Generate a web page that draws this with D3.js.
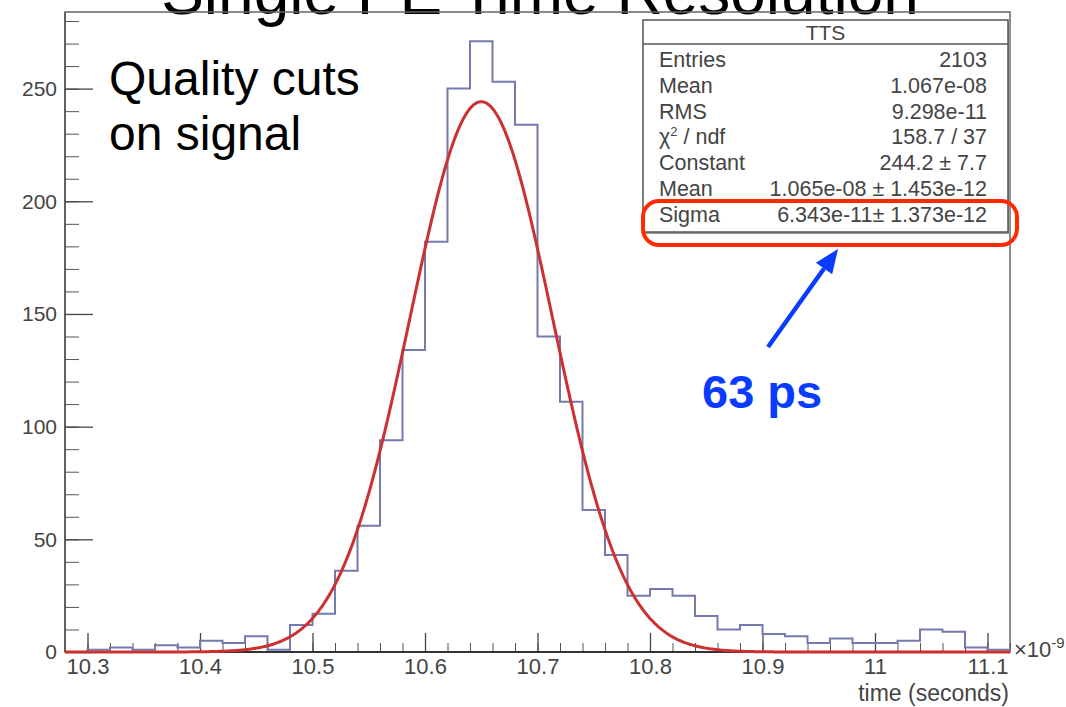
<!DOCTYPE html>
<html>
<head>
<meta charset="utf-8">
<script src="https://cdn.jsdelivr.net/npm/d3@7"></script>
<style>
  body { margin: 0; background: #fff; }
  svg { display: block; font-family: "Liberation Sans", Arial, sans-serif; }
</style>
</head>
<body>
<div id="chart"></div>
<script>
// histogram TTS: 42 bins of 0.02 (x 1e-9 s) starting at 10.28
var binLow = 10.28, binWidth = 0.02;
var counts = [0, 1, 2, 1, 3, 2, 5, 4, 7, 1,
              12, 17, 36, 56, 94, 134, 182, 250, 271, 253,
              234, 140, 111, 63, 43, 25, 28, 25, 16, 10,
              12, 8, 7, 4, 6, 4, 4, 5, 10, 9,
              2, 1];
// gaussian fit: constant, mean, sigma (x 1e-9 s)
var fitParams = [244.2, 10.65, 0.06343];
var xTicks = [10.3, 10.4, 10.5, 10.6, 10.7, 10.8, 10.9, 11, 11.1];
var yTicks = [0, 50, 100, 150, 200, 250];
var statsLabels = ["Entries", "Mean", "RMS", "chi2", "Constant", "Mean", "Sigma"];
var statsValues = ["2103", "1.067e-08", "9.298e-11", "158.7 / 37", "244.2 \u00b1 7.7",
                   "1.065e-08 \u00b1 1.453e-12", "6.343e-11\u00b1 1.373e-12"];

var W = 1066, H = 707;
var frame = {left: 65, top: 12, right: 1010, bottom: 652};

var svg = d3.select("#chart").append("svg")
    .attr("width", W).attr("height", H);

var x = d3.scaleLinear().domain([binLow, binLow + counts.length * binWidth])
    .range([frame.left, frame.right]);
var y = d3.scaleLinear().domain([0, 284]).range([frame.bottom, frame.top]);

// slide title, cut off at the top
svg.append("text")
    .attr("x", 540).attr("y", 14)
    .attr("text-anchor", "middle")
    .style("font-size", "64px").style("fill", "#000")
    .text("Single PE Time Resolution");

// frame
svg.append("rect")
    .attr("x", frame.left).attr("y", frame.top)
    .attr("width", frame.right - frame.left).attr("height", frame.bottom - frame.top)
    .style("fill", "none").style("stroke", "#666").style("stroke-width", 1.5);

// minor ticks
var xMinor = d3.range(0, 43).map(function (i) { return +(binLow + i * binWidth).toFixed(2); });
var yMinor = d3.range(0, 29).map(function (i) { return i * 10; });

svg.append("g").attr("transform", "translate(0," + frame.bottom + ")")
    .call(d3.axisBottom(x).tickValues(xMinor).tickSizeInner(-9).tickSizeOuter(0).tickFormat(""))
    .call(function (g) { g.select(".domain").remove(); g.selectAll("line").style("stroke", "#555"); });
svg.append("g").attr("transform", "translate(" + frame.left + ",0)")
    .call(d3.axisLeft(y).tickValues(yMinor).tickSizeInner(-14).tickSizeOuter(0).tickFormat(""))
    .call(function (g) { g.select(".domain").remove(); g.selectAll("line").style("stroke", "#555"); });

// major ticks + labels
var xAxis = svg.append("g").attr("transform", "translate(0," + frame.bottom + ")")
    .call(d3.axisBottom(x).tickValues(xTicks).tickSizeInner(-19).tickSizeOuter(0).tickPadding(6)
        .tickFormat(function (d) { return +d.toFixed(1); }));
xAxis.select(".domain").remove();
xAxis.selectAll("line").style("stroke", "#444").style("stroke-width", 1.3);
xAxis.selectAll("text").style("font-size", "22px").style("fill", "#444")
    .style("font-family", "Liberation Sans, Arial, sans-serif");

var yAxis = svg.append("g").attr("transform", "translate(" + frame.left + ",0)")
    .call(d3.axisLeft(y).tickValues(yTicks).tickSizeInner(-28).tickSizeOuter(0).tickPadding(8));
yAxis.select(".domain").remove();
yAxis.selectAll("line").style("stroke", "#444").style("stroke-width", 1.3);
yAxis.selectAll("text").style("font-size", "21px").style("fill", "#444")
    .style("font-family", "Liberation Sans, Arial, sans-serif");

// axis lines on top of frame
svg.append("line").attr("x1", frame.left).attr("x2", frame.right)
    .attr("y1", frame.bottom).attr("y2", frame.bottom)
    .style("stroke", "#333").style("stroke-width", 2);
svg.append("line").attr("x1", frame.left).attr("x2", frame.left)
    .attr("y1", frame.top).attr("y2", frame.bottom)
    .style("stroke", "#555").style("stroke-width", 1.5);

// exponent and axis title
var expo = svg.append("text").attr("x", frame.right + 4).attr("y", frame.bottom + 5)
    .style("font-size", "22px").style("fill", "#444");
expo.append("tspan").text("\u00d710");
expo.append("tspan").attr("dy", -9).style("font-size", "15px").text("-9");

svg.append("text").attr("x", frame.right - 1).attr("y", 701)
    .attr("text-anchor", "end")
    .style("font-size", "23px").style("fill", "#444")
    .text("time (seconds)");

// histogram outline
var path = d3.path();
path.moveTo(x(binLow), y(0));
counts.forEach(function (c, i) {
    path.lineTo(x(binLow + i * binWidth), y(c));
    path.lineTo(x(binLow + (i + 1) * binWidth), y(c));
});
path.lineTo(x(binLow + counts.length * binWidth), y(0));
svg.append("path").attr("d", path.toString())
    .style("fill", "none").style("stroke", "#7479b0").style("stroke-width", 2);

// gaussian fit curve
var gaus = function (t) {
    var z = (t - fitParams[1]) / fitParams[2];
    return fitParams[0] * Math.exp(-0.5 * z * z);
};
var xs = d3.range(0, 601).map(function (i) { return x.domain()[0] + i * (x.domain()[1] - x.domain()[0]) / 600; });
svg.append("path")
    .datum(xs)
    .attr("d", d3.line().x(function (d) { return x(d); }).y(function (d) { return y(gaus(d)); }))
    .style("fill", "none").style("stroke", "#cc3030").style("stroke-width", 3);

// stats box
var box = {x: 643, y: 20, w: 365, h: 212, head: 24, row: 25.8};
svg.append("rect").attr("x", box.x + 2).attr("y", box.y + 2)
    .attr("width", box.w).attr("height", box.h).style("fill", "#999");
svg.append("rect").attr("x", box.x).attr("y", box.y)
    .attr("width", box.w).attr("height", box.h)
    .style("fill", "#fff").style("stroke", "#555").style("stroke-width", 1.5);
svg.append("line").attr("x1", box.x).attr("x2", box.x + box.w)
    .attr("y1", box.y + box.head).attr("y2", box.y + box.head)
    .style("stroke", "#555").style("stroke-width", 1.5);
svg.append("text").attr("x", box.x + box.w / 2).attr("y", box.y + 20)
    .attr("text-anchor", "middle").style("font-size", "21px").style("fill", "#444")
    .text("TTS");

statsLabels.forEach(function (lab, i) {
    var yy = 67 + i * box.row;
    var t = svg.append("text").attr("x", 659).attr("y", yy)
        .style("font-size", "21.5px").style("fill", "#444");
    if (lab === "chi2") {
        t.append("tspan").text("\u03c7");
        t.append("tspan").attr("dy", -8).style("font-size", "13px").text("2");
        t.append("tspan").attr("dy", 8).text(" / ndf");
    } else {
        t.text(lab);
    }
    svg.append("text").attr("x", 987).attr("y", yy)
        .attr("text-anchor", "end")
        .style("font-size", "21.5px").style("fill", "#444")
        .text(statsValues[i]);
});

// red highlight around Sigma row
svg.append("rect").attr("x", 643).attr("y", 201).attr("width", 374).attr("height", 44)
    .attr("rx", 16).attr("ry", 16)
    .style("fill", "none").style("stroke", "#ff2a00").style("stroke-width", 4);

// annotation arrow
var a0 = [768, 347], a1 = [838, 249];
var ang = Math.atan2(a1[1] - a0[1], a1[0] - a0[0]);
var hl = 24, hw = 10;
var bx = a1[0] - hl * Math.cos(ang), by = a1[1] - hl * Math.sin(ang);
svg.append("line").attr("x1", a0[0]).attr("y1", a0[1]).attr("x2", bx).attr("y2", by)
    .style("stroke", "#0a3cff").style("stroke-width", 4.5);
svg.append("polygon")
    .attr("points", [
        [a1[0], a1[1]],
        [bx + hw * Math.sin(ang), by - hw * Math.cos(ang)],
        [bx - hw * Math.sin(ang), by + hw * Math.cos(ang)]
    ].map(function (p) { return p.join(","); }).join(" "))
    .style("fill", "#0a3cff");

svg.append("text").attr("x", 702).attr("y", 408)
    .style("font-size", "47px").style("font-weight", "bold").style("fill", "#0a3cff")
    .text("63 ps");

// slide annotation
svg.append("text").attr("x", 109).attr("y", 95)
    .style("font-size", "48px").style("fill", "#000").text("Quality cuts");
svg.append("text").attr("x", 109).attr("y", 150)
    .style("font-size", "48px").style("fill", "#000").text("on signal");
</script>
</body>
</html>
